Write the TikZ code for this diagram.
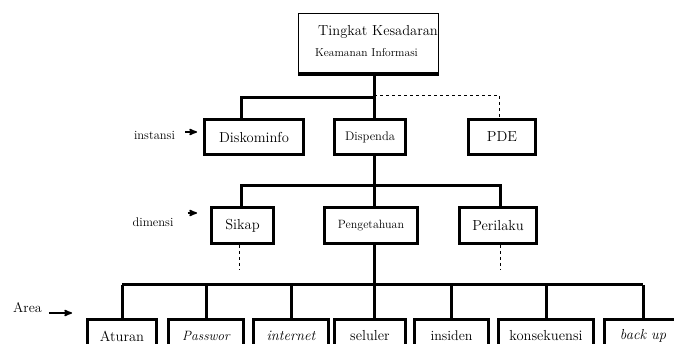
\documentclass[tikz,border=0pt]{standalone}
\usepackage{tikz}
\usetikzlibrary{shapes,arrows,positioning,calc}
\tikzstyle{block} = [rectangle, draw, line width=3pt, minimum height=35pt, inner sep=0pt, text centered, font=\fontsize{14.5}{16}\selectfont]
\tikzstyle{leaf} = [block, minimum height=33pt]
\tikzstyle{topbox} = [rectangle, draw, line width=0.9pt, minimum width=140pt, minimum height=60pt]
\tikzstyle{lbl} = [inner sep=0pt, font=\fontsize{12.5}{14}\selectfont]
\tikzstyle{link} = [line width=3pt]
\tikzstyle{dashline} = [line width=0.8pt, dashed]
\tikzstyle{pointer} = [->, line width=1.6pt]

\begin{document}
\begin{tikzpicture}[x=1pt, y=-1pt, >=stealth']
    \useasboundingbox (0,0) rectangle (674,344);
    \clip (0,0) rectangle (674,344);

    % puncak
    \node[topbox] (top) at (368.5,43.5) {};
    \node[inner sep=0pt, font=\fontsize{14.5}{16}\selectfont] (judul) at (378,32) {Tingkat Kesadaran};
    \node[inner sep=0pt, font=\fontsize{11.5}{13}\selectfont] (subjudul) at (366.5,53) {Keamanan Informasi};
    \draw[link, line width=3.5pt] (top.south west) -- (top.south east);

    % instansi
    \node[block, minimum width=99pt] (diskominfo) at (254,137) {Diskominfo};
    \node[block, minimum width=71pt, font=\fontsize{12.5}{14}\selectfont] (dispenda) at (370,137) {Dispenda};
    \node[block, minimum width=67pt] (pde) at (502,137) {PDE};

    % dimensi
    \node[block, minimum width=62pt, minimum height=36pt] (sikap) at (242.5,225.5) {Sikap};
    \node[block, minimum width=93pt, minimum height=36pt, font=\fontsize{12}{14}\selectfont] (pengetahuan) at (371,225.5) {Pengetahuan};
    \node[block, minimum width=77pt, minimum height=36pt] (perilaku) at (498,225.5) {Perilaku};

    % area
    \node[leaf, minimum width=69pt] (aturan) at (122,336) {Aturan};
    \node[leaf, minimum width=75pt, font=\fontsize{13.5}{15}\selectfont\itshape] (passwor) at (206,336) {Passwor};
    \node[leaf, minimum width=75pt, font=\fontsize{14.5}{16}\selectfont\itshape] (internet) at (291,336) {internet};
    \node[leaf, minimum width=71pt] (seluler) at (370,336) {seluler};
    \node[leaf, minimum width=74pt, font=\fontsize{14}{16}\selectfont] (insiden) at (451.5,336) {insiden};
    \node[leaf, minimum width=95pt] (konsekuensi) at (546,336) {konsekuensi};
    \node[leaf, minimum width=77pt, font=\fontsize{14.5}{16}\selectfont\itshape] (backup) at (643,336) {back up};

    % label kiri
    \node[lbl] (instansi) at (154.5,135) {instansi};
    \node[lbl] (dimensi) at (153,222) {dimensi};
    \node[lbl, font=\fontsize{14}{16}\selectfont] (area) at (27.5,308) {Area};
    \draw[pointer] ([xshift=10pt,yshift=3pt]instansi.east) -- ([xshift=-6pt,yshift=5pt]diskominfo.west);
    \draw[pointer] ([xshift=14pt,yshift=9pt]dimensi.east) -- ([xshift=-13pt,yshift=12.5pt]sikap.west);
    \draw[pointer] ([xshift=7pt,yshift=-5pt]area.east) -- ([xshift=-14pt,yshift=23pt]aturan.west);

    % cabang
    \coordinate (b1) at (374,98);
    \coordinate (b2) at (374,186);
    \coordinate (b3) at (374,285);

    \draw[link] (b1 |- top.south) -- (b1 |- dispenda.north);
    \draw[link] (b1) -| ([xshift=-13pt]diskominfo.north);
    \draw[dashline] ([yshift=3pt]b1) -| ([xshift=-3pt]pde.north);

    \draw[link] (b1 |- dispenda.south) -- (b2 |- pengetahuan.north);
    \draw[link] (b2) -| ([xshift=-1.5pt]sikap.north);
    \draw[link] (b2) -| ([xshift=2pt]perilaku.north);
    \draw[dashline] ([xshift=-3pt]sikap.south) -- ++(0,25);
    \draw[dashline] ([xshift=2pt]perilaku.south) -- ++(0,25);

    \draw[link] (b3 |- pengetahuan.south) -- (b3 |- seluler.north);
    \draw[link] (aturan.north |- b3) -- (backup.north |- b3);
    \foreach \n in {aturan,passwor,internet,insiden,konsekuensi,backup}
        \draw[link] (\n.north |- b3) -- (\n.north);
\end{tikzpicture}
\end{document}
